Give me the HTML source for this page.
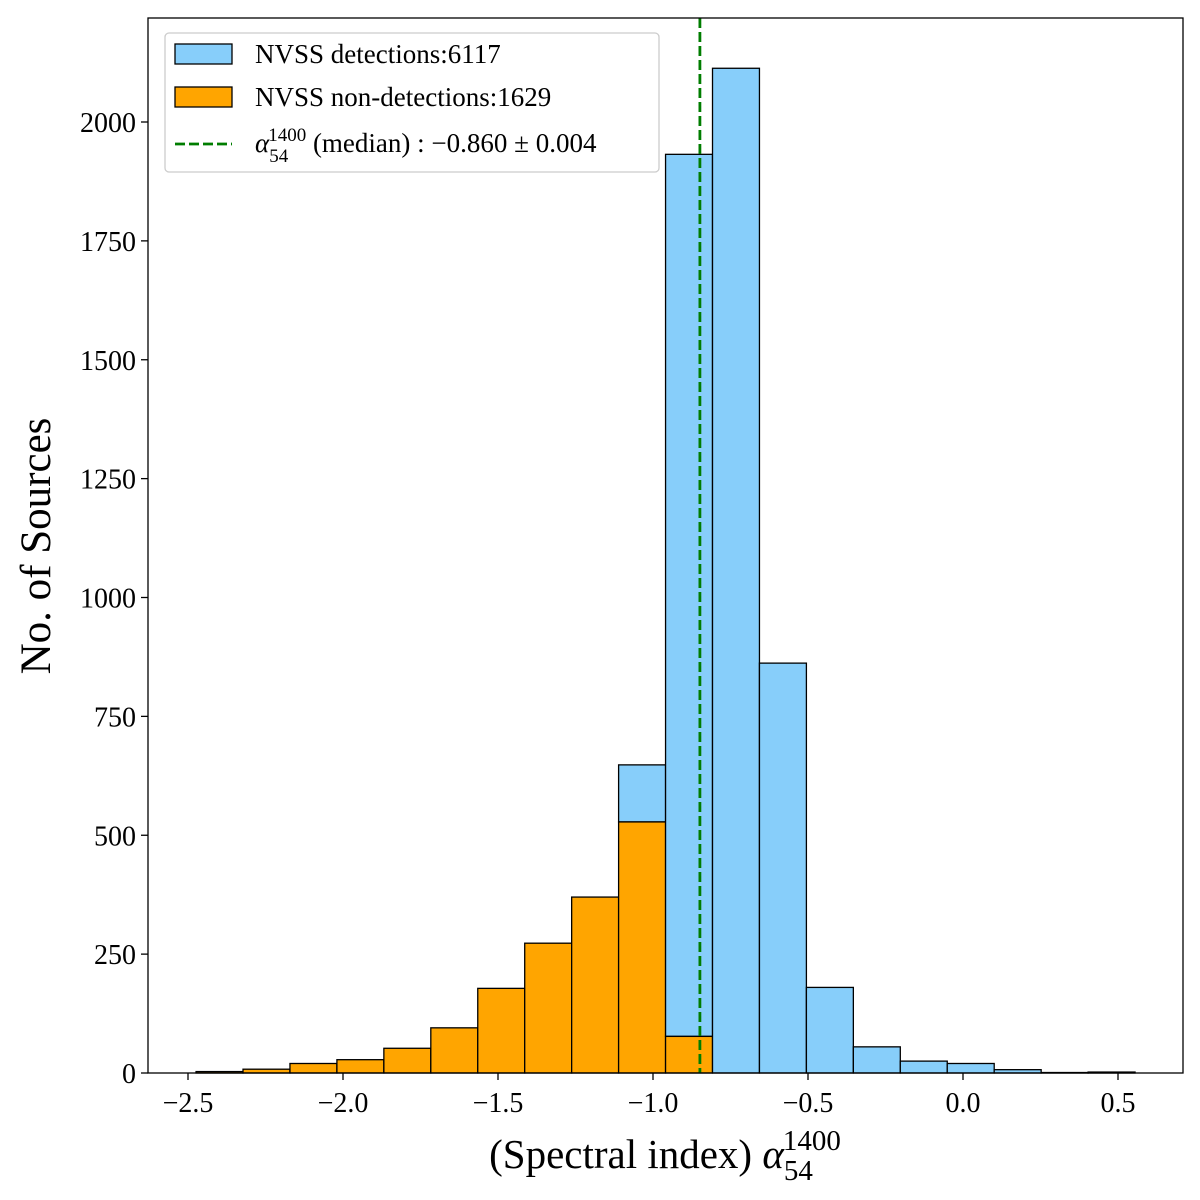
<!DOCTYPE html>
<html><head><meta charset="utf-8"><style>
html,body{margin:0;padding:0;background:#fff;}
svg{display:block;font-family:"Liberation Serif",serif;}
</style></head><body>
<svg id="chart" width="1200" height="1200" viewBox="0 0 1200 1200" xmlns="http://www.w3.org/2000/svg">
<rect width="1200" height="1200" fill="#fff"/>
<g id="bars"></g>
<g id="axes"></g>
</svg>
<script>
const binStart = -2.474;
const binWidth = 0.15145;
const orangeCounts = [3, 8, 20, 28, 52, 95, 178, 273, 370, 528, 77, 0, 0, 0, 0, 0, 0, 0, 0, 0];
const totalCounts = [3, 8, 20, 28, 52, 95, 178, 273, 370, 648, 1932, 2113, 862, 180, 55, 25, 20, 7, 1, 2];
const xTicks = [-2.5, -2.0, -1.5, -1.0, -0.5, 0.0, 0.5];
const xTickLabels = ["\u22122.5", "\u22122.0", "\u22121.5", "\u22121.0", "\u22120.5", "0.0", "0.5"];
const yTicks = [0, 250, 500, 750, 1000, 1250, 1500, 1750, 2000];
const medianValue = -0.86;

const L = 148, R = 1183, T = 18, B = 1073;
const xs = v => 188 + (v + 2.5) * 310;
const ys = v => B - v * (951 / 2000);
const NS = "http://www.w3.org/2000/svg";
function mk(tag, attrs, parent) {
  const e = document.createElementNS(NS, tag);
  for (const k in attrs) e.setAttribute(k, attrs[k]);
  parent.appendChild(e);
  return e;
}
const bars = document.getElementById('bars');
const axes = document.getElementById('axes');

totalCounts.forEach((c, i) => {
  const x0 = xs(binStart + i * binWidth), x1 = xs(binStart + (i + 1) * binWidth);
  const o = orangeCounts[i];
  if (c > o) {
    const r = mk('rect', {x: x0, y: ys(c), width: x1 - x0, height: ys(o) - ys(c), fill: '#87cefa', stroke: '#000', 'stroke-width': 1.3}, bars);
    
    
  }
  if (o > 0) {
    const r = mk('rect', {x: x0, y: ys(o), width: x1 - x0, height: B - ys(o), fill: '#ffa500', stroke: '#000', 'stroke-width': 1.3}, bars);
    
    
  }
});

const med = mk('line', {x1: xs(medianValue) + 3.5, x2: xs(medianValue) + 3.5, y1: T, y2: B, stroke: '#007d00', 'stroke-width': 2.8, 'stroke-dasharray': '10,4'}, axes);



const frame = mk('rect', {x: L, y: T, width: R - L, height: B - T, fill: 'none', stroke: '#000', 'stroke-width': 1.3}, axes);



xTicks.forEach((v, i) => {
  mk('line', {x1: xs(v), x2: xs(v), y1: B, y2: B + 7, stroke: '#000', 'stroke-width': 1.3}, axes);
  const t = mk('text', {x: xs(v), y: B + 39, 'text-anchor': 'middle', 'font-size': 28}, axes);
  t.textContent = xTickLabels[i];
  
  
});
yTicks.forEach(v => {
  mk('line', {x1: L - 7, x2: L, y1: ys(v), y2: ys(v), stroke: '#000', 'stroke-width': 1.3}, axes);
  const t = mk('text', {x: L - 12, y: ys(v) + 10, 'text-anchor': 'end', 'font-size': 28}, axes);
  t.textContent = String(v);
  
  
});
</script>
<svg style="position:absolute;left:0;top:0" width="1200" height="1200" xmlns="http://www.w3.org/2000/svg" font-family="Liberation Serif, serif">
<text transform="translate(50,546) rotate(-90)" text-anchor="middle" font-size="43">No. of Sources</text>
<text x="665" y="1168" text-anchor="middle" font-size="41">(Spectral index) <tspan font-style="italic">α</tspan><tspan font-size="29" dy="12">54</tspan><tspan font-size="29" dx="-30" dy="-30">1400</tspan></text>
<g>
<rect x="165" y="33" width="494" height="139" rx="4" fill="#fff" stroke="#ccc" stroke-width="1.3"/>
<rect x="175" y="44" width="57" height="20" fill="#87cefa" stroke="#000" stroke-width="1.3"/>
<text x="255" y="63" font-size="27">NVSS detections:6117</text>
<rect x="175" y="87" width="57" height="20" fill="#ffa500" stroke="#000" stroke-width="1.3"/>
<text x="255" y="106" font-size="27">NVSS non-detections:1629</text>
<line x1="175" x2="232" y1="144" y2="144" stroke="#007d00" stroke-width="2.8" stroke-dasharray="10,4"/>
<text x="255" y="152" font-size="27"><tspan font-style="italic">α</tspan><tspan font-size="19" dy="10">54</tspan><tspan font-size="19" dx="-20" dy="-21">1400</tspan><tspan dy="11"> (median) : −0.860 ± 0.004</tspan></text>
</g>
</svg>
</body></html>
